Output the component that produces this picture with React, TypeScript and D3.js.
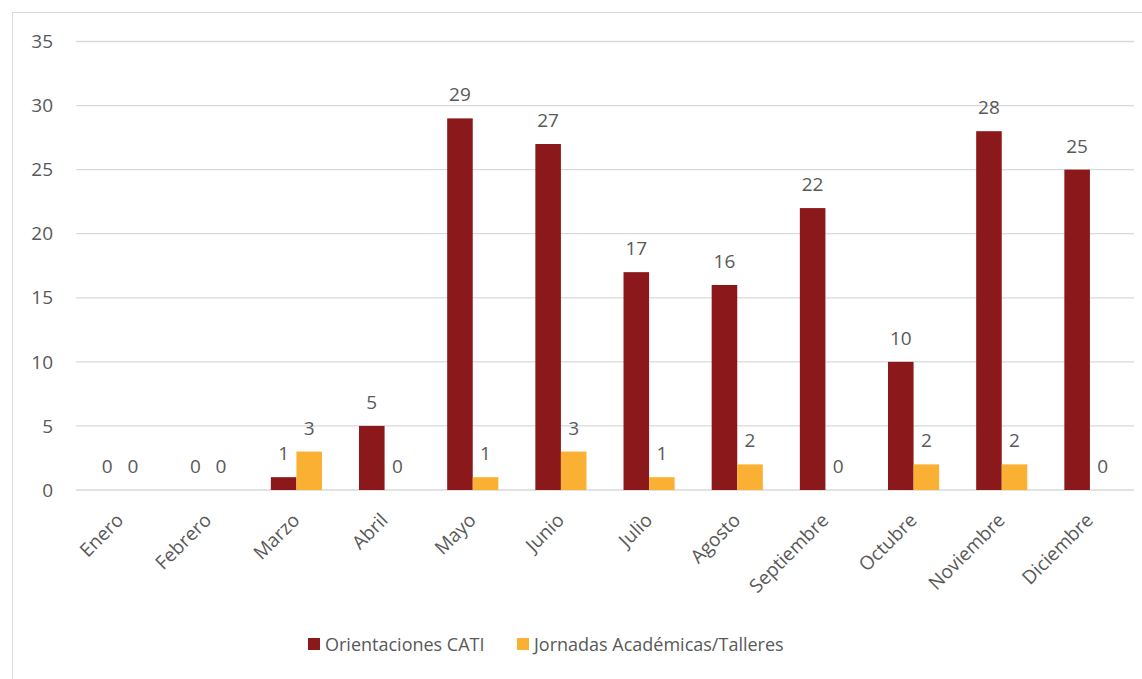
import React from "react";
import * as d3 from "d3";

const months = [
  "Enero", "Febrero", "Marzo", "Abril", "Mayo", "Junio",
  "Julio", "Agosto", "Septiembre", "Octubre", "Noviembre", "Diciembre",
];
const seriesNames = ["Orientaciones CATI", "Jornadas Académicas/Talleres"];
const orientaciones = [0, 0, 1, 5, 29, 27, 17, 16, 22, 10, 28, 25];
const jornadas = [0, 0, 3, 0, 1, 3, 1, 2, 0, 2, 2, 0];
const yTicks = [0, 5, 10, 15, 20, 25, 30, 35];

const colors = ["#8b181b", "#fab133"];
const textColor = "#595959";
const gridColor = "#d9d9d9";
const font = "'Open Sans', sans-serif";

const W = 1142;
const H = 679;
const plot = { left: 76, right: 1134, top: 41.5, bottom: 490 };

const App: React.FC = () => {
  const x0 = d3
    .scaleBand<string>()
    .domain(months)
    .range([plot.left, plot.right])
    .paddingInner(0.42)
    .paddingOuter(0.21);
  const x1 = d3
    .scaleBand<string>()
    .domain(seriesNames)
    .range([0, x0.bandwidth()]);
  const y = d3.scaleLinear().domain([0, 35]).range([plot.bottom, plot.top]);

  const values = [orientaciones, jornadas];

  return (
    <svg
      width={W}
      height={H}
      style={{ position: "absolute", left: 0, top: 0, background: "#fff" }}
      fontFamily={font}
    >
      <rect x={12.5} y={12.5} width={W} height={H} fill="#fff" stroke={gridColor} />

      {/* grid + y ticks */}
      {yTicks.map((t) => (
        <g key={t}>
          <line
            x1={plot.left}
            x2={plot.right}
            y1={y(t)}
            y2={y(t)}
            stroke={gridColor}
            strokeWidth={1.3}
          />
          <text
            x={53}
            y={y(t)}
            dy="0.35em"
            textAnchor="end"
            fontSize={19}
            fill={textColor}
          >
            {t}
          </text>
        </g>
      ))}

      {/* bars */}
      {values.map((vals, si) =>
        vals.map((v, i) => {
          const bx = x0(months[i])! + x1(seriesNames[si])!;
          return (
            <g key={`${si}-${i}`}>
              {v > 0 && (
                <rect
                  x={bx}
                  y={y(v)}
                  width={x1.bandwidth()}
                  height={y(0) - y(v)}
                  fill={colors[si]}
                />
              )}
              <text
                x={bx + x1.bandwidth() / 2}
                y={y(v) - 17}
                textAnchor="middle"
                fontSize={19}
                fill={textColor}
              >
                {v}
              </text>
            </g>
          );
        })
      )}

      {/* category labels */}
      {months.map((m) => {
        const cx = x0(m)! + x0.bandwidth() / 2 - 5;
        const cy = plot.bottom + 22;
        return (
          <text
            key={m}
            transform={`translate(${cx},${cy}) rotate(-45)`}
            textAnchor="end"
            dy="0.7em"
            fontSize={19}
            fill={textColor}
          >
            {m}
          </text>
        );
      })}

      {/* legend */}
      {seriesNames.map((s, i) => {
        const lx = [308, 517][i];
        return (
          <g key={s}>
            <rect x={lx} y={638} width={12} height={12} fill={colors[i]} />
            <text x={lx + 17} y={651} fontSize={18} fill={textColor}>
              {s}
            </text>
          </g>
        );
      })}
    </svg>
  );
};

export default App;
